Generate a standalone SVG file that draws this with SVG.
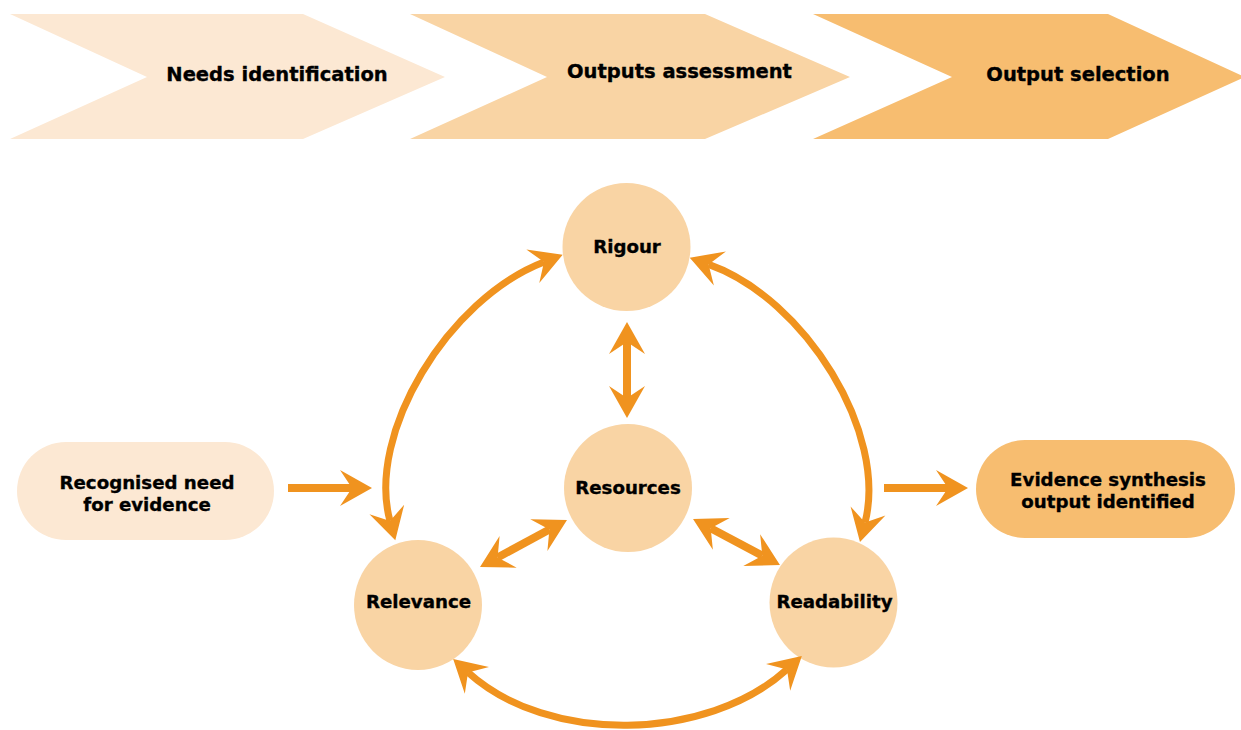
<svg xmlns="http://www.w3.org/2000/svg" width="1241" height="730" viewBox="0 0 1241 730">
<style>
.lbl{font-family:"DejaVu Sans","Verdana",sans-serif;font-weight:bold;fill:#000;stroke:#000;stroke-width:0.35;text-anchor:middle}
.stage{font-size:19.5px}
.node{font-size:18.2px}
.c1{fill:#FCE8D3}.c2{fill:#F9D4A4}.c3{fill:#F7BD70}
.arr{fill:none;stroke:#F0931F;stroke-width:8;marker-end:url(#ah)}
.dbl{fill:none;stroke:#F0931F;stroke-width:8;marker-start:url(#ah);marker-end:url(#ah)}
.arc{fill:none;stroke:#F0931F;stroke-width:7;marker-start:url(#ah);marker-end:url(#ah)}
</style>
<defs>
<marker id="ah" markerUnits="userSpaceOnUse" orient="auto-start-reverse" markerWidth="40" markerHeight="40" refX="0" refY="0" overflow="visible">
<path d="M20,0 L-12,-18 L0,0 L-12,18 Z" fill="#F0931F"/>
</marker>
</defs>
<rect width="1241" height="730" fill="#fff"/>
<g id="stage-needs">
<polygon class="c1" points="10,14 303,14 445,77 303,139 10,139 147,77"/>
<text class="lbl stage" x="277" y="80.5">Needs identification</text>
</g>
<g id="stage-assessment">
<polygon class="c2" points="410,14 705,14 850,77 705,139 410,139 547,77"/>
<text class="lbl stage" x="679.5" y="78">Outputs assessment</text>
</g>
<g id="stage-selection">
<polygon class="c3" points="813,14 1108,14 1245,77 1108,139 813,139 952,77"/>
<text class="lbl stage" x="1078" y="80.5">Output selection</text>
</g>
<g id="node-need">
<rect class="c1" x="17" y="442" width="257" height="98" rx="49" ry="49"/>
<text class="lbl node" x="147" y="489">Recognised need</text>
<text class="lbl node" x="147" y="511">for evidence</text>
</g>
<g id="node-output">
<rect class="c3" x="976" y="440" width="259" height="98" rx="49" ry="49"/>
<text class="lbl node" x="1108" y="485.5">Evidence synthesis</text>
<text class="lbl node" x="1108" y="507.5">output identified</text>
</g>
<g id="node-rigour">
<circle class="c2" cx="626.5" cy="247" r="64"/>
<text class="lbl node" x="627" y="253">Rigour</text>
</g>
<g id="node-resources">
<circle class="c2" cx="628" cy="488" r="64"/>
<text class="lbl node" x="628" y="494">Resources</text>
</g>
<g id="node-relevance">
<ellipse class="c2" cx="418" cy="605" rx="64" ry="65"/>
<text class="lbl node" x="418.5" y="608">Relevance</text>
</g>
<g id="node-readability">
<ellipse class="c2" cx="833.5" cy="602.5" rx="64" ry="65"/>
<text class="lbl node" x="834.5" y="608">Readability</text>
</g>
<g id="connectors">
<path class="arr" d="M288,488 L352,488"/>
<path class="arr" d="M884,488 L948,488"/>
<path class="dbl" d="M627,342 L627,398"/>
<path class="dbl" d="M549.4,529.5 L497.6,557.5"/>
<path class="dbl" d="M710.7,528.3 L762.3,555.7"/>
<path class="arc" d="M390,521 C366,433.7 448,299 544,262"/>
<path class="arc" d="M865,522.6 C888,433.7 806,299 708.6,264.4"/>
<path class="arc" d="M468,672.4 C548,744.8 707,741.8 787,669.4"/>
</g>
</svg>
